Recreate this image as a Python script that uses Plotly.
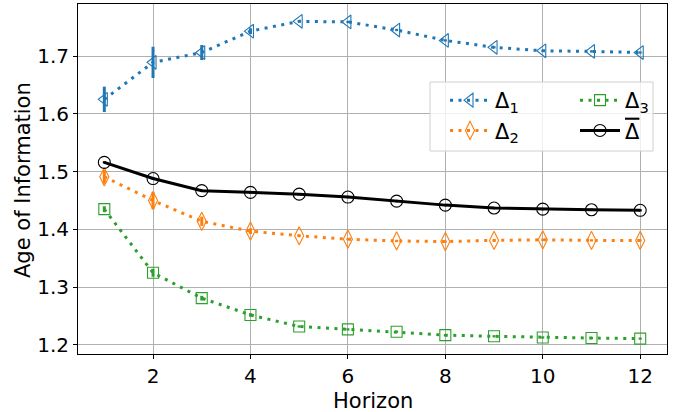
import plotly.graph_objects as go

horizon = [1, 2, 3, 4, 5, 6, 7, 8, 9, 10, 11, 12]
d1 = [1.625, 1.689, 1.706, 1.743, 1.760, 1.759, 1.745, 1.727, 1.715, 1.709, 1.708, 1.706]
d1_err = [0.022, 0.027, 0.013, 0.005, 0.002, 0.002, 0.002, 0.002, 0.002, 0.002, 0.002, 0.002]
d2 = [1.491, 1.450, 1.414, 1.397, 1.389, 1.383, 1.380, 1.379, 1.381, 1.382, 1.381, 1.381]
d2_err = [0.012, 0.015, 0.008, 0.005, 0.002, 0.002, 0.002, 0.002, 0.002, 0.002, 0.002, 0.002]
d3 = [1.435, 1.325, 1.281, 1.252, 1.232, 1.227, 1.223, 1.217, 1.215, 1.213, 1.212, 1.211]
d3_err = [0.005, 0.007, 0.004, 0.003, 0.002, 0.002, 0.002, 0.002, 0.002, 0.002, 0.002, 0.002]
dm = [1.516, 1.488, 1.467, 1.464, 1.461, 1.456, 1.449, 1.442, 1.437, 1.435, 1.434, 1.433]
dm_err = [0.002] * 12

series = [
    ("Δ<sub>1</sub>", d1, d1_err, "#1f77b4", "triangle-left-open", 12, "3px,5.5px", "legend"),
    ("Δ<sub>2</sub>", d2, d2_err, "#ff7f0e", "diamond-tall-open", 13, "3px,5.5px", "legend"),
    ("Δ<sub>3</sub>", d3, d3_err, "#2ca02c", "square-open", 11, "3px,5.5px", "legend2"),
    ("<span style='text-decoration:overline'>Δ</span>", dm, dm_err, "black", "circle-open", 12, "solid", "legend2"),
]

fig = go.Figure()
for name, ys, es, col, sym, size, dash, leg in series:
    fig.add_trace(go.Scatter(
        x=horizon, y=ys, name=name, mode="lines+markers",
        line=dict(color=col, width=3, dash=dash),
        marker=dict(symbol=sym, size=size, color=col, line=dict(width=1.1, color=col)),
        error_y=dict(type="data", array=es, visible=True, color=col, thickness=3, width=0),
        legend=leg,
    ))

axis_common = dict(
    showline=True, linecolor="black", linewidth=1, mirror=True,
    showgrid=True, gridcolor="#b0b0b0", gridwidth=1,
    ticks="outside", ticklen=4, tickcolor="black",
    tickfont=dict(size=20, color="black", family="DejaVu Sans"),
    zeroline=False, automargin=False,
)

L, R, T, B = 78, 11, 4, 58
W, H = 678, 412
pw, ph = W - L - R, H - T - B


def px(xp):
    return (xp - L) / pw


def py(yp):
    return (H - B - yp) / ph


legend_common = dict(
    orientation="v", xanchor="left", yanchor="top",
    itemwidth=40, bgcolor="rgba(0,0,0,0)", borderwidth=0,
    font=dict(size=21, family="DejaVu Sans", color="black"),
    tracegroupgap=0,
)

fig.update_layout(
    width=W, height=H,
    margin=dict(l=L, r=R, t=T, b=B),
    paper_bgcolor="white", plot_bgcolor="white",
    font=dict(family="DejaVu Sans", color="black"),
    xaxis=dict(range=[0.46, 12.55], tickmode="array", tickvals=[2, 4, 6, 8, 10, 12], **axis_common),
    yaxis=dict(range=[1.1844, 1.790], tickmode="array", tickvals=[1.2, 1.3, 1.4, 1.5, 1.6, 1.7],
               tickformat=".1f", **axis_common),
    legend=dict(x=px(445), y=py(80), **legend_common),
    legend2=dict(x=px(575), y=py(80), **legend_common),
    shapes=[dict(type="rect", xref="paper", yref="paper",
                 x0=px(430), x1=px(653), y0=py(151), y1=py(82),
                 fillcolor="rgba(255,255,255,0.8)", line=dict(color="#d0d0d0", width=1),
                 layer="above")],
    annotations=[
        dict(text="Horizon", xref="paper", yref="paper", x=0.5, y=py(401),
             xanchor="center", yanchor="middle", showarrow=False,
             font=dict(size=21, color="black")),
        dict(text="Age of Information", xref="paper", yref="paper", x=px(23), y=py(180),
             xanchor="center", yanchor="middle", textangle=-90, showarrow=False,
             font=dict(size=21, color="black")),
    ],
    showlegend=True,
)

fig.write_html("out.html", config={"displayModeBar": False},
               post_script="document.body.style.margin='0';document.body.style.overflow='hidden';")
